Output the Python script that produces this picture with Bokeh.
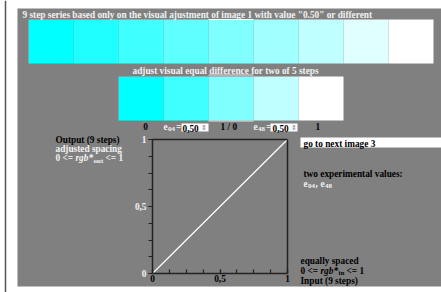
from bokeh.plotting import figure
from bokeh.models import Range1d, LinearAxis, FixedTicker, Label, ColumnDataSource
from bokeh.embed import file_html
from bokeh.resources import INLINE

# ---------------- data ----------------
steps9 = [0, 1, 2, 3, 4, 5, 6, 7, 8]
colors9 = ["#00ffff", "#20ffff", "#40ffff", "#60ffff", "#80ffff",
           "#a0ffff", "#c0ffff", "#e0ffff", "#ffffff"]
steps5 = [0, 1, 2, 3, 4]
colors5 = ["#00ffff", "#40ffff", "#80ffff", "#c0ffff", "#ffffff"]
mid9 = [4]
mid5 = [2]
input_vals = [0, 0.125, 0.25, 0.375, 0.5, 0.625, 0.75, 0.875, 1]
output_vals = [0, 0.125, 0.25, 0.375, 0.5, 0.625, 0.75, 0.875, 1]
x_major_ticks = [0, 0.5, 1]
y_major_ticks = [0, 0.5, 1]
tick_label_overrides = {0.5: "0,5"}
e04_value = "0,50"
e48_value = "0,50"

# ---------------- figure ----------------
FONT = "Liberation Serif"
FS = "9.3px"
SUB = "7px"
GRAY = "#808080"
LIGHT = "#f2f2f2"
DY = -2.0

W, H = 441, 292
p = figure(width=W, height=H, x_range=Range1d(0, W), y_range=Range1d(H, 0),
           x_axis_type=None, y_axis_type=None, min_border=0,
           toolbar_location=None, output_backend="svg",
           background_fill_color="white", border_fill_color="white",
           outline_line_color=None)
p.grid.visible = False

# ranges for strips (45 px per step) and for inner plot
p.extra_x_ranges = {
    "s9": Range1d(-28 / 45, 9 + 8 / 45),
    "s5": Range1d(-118 / 45, 5 + 98 / 45),
    "in": Range1d(-152 / 135, 1 + 154 / 135),
}
p.extra_y_ranges = {"in": Range1d(-19 / 134, 1 + 139 / 134)}

# left frame line and gray panel
p.segment(x0=5, x1=5, y0=0, y1=H, line_color="#555555", line_width=1.5)
p.quad(left=17, right=W, top=8, bottom=286, fill_color=GRAY, line_color=None)

# 9-step strip
src9 = ColumnDataSource(dict(l=steps9, r=[s + 1 for s in steps9], c=colors9))
p.quad(left="l", right="r", top=19, bottom=63, fill_color="c", line_color=None,
       source=src9, x_range_name="s9")
p.segment(x0=mid9, x1=[m + 1 for m in mid9], y0=19, y1=19, line_color="white",
          line_width=1, x_range_name="s9")

# 5-step strip
src5 = ColumnDataSource(dict(l=steps5, r=[s + 1 for s in steps5], c=colors5))
p.quad(left="l", right="r", top=76, bottom=120, fill_color="c", line_color=None,
       source=src5, x_range_name="s5")
p.segment(x0=mid5 * 2, x1=[m + 1 for m in mid5] * 2, y0=[74.5, 120.5], y1=[74.5, 120.5],
          line_color="#e8e8e8", line_width=1, x_range_name="s5")

# input boxes
p.quad(left=[181, 270], right=[208, 297], top=123, bottom=131,
       fill_color="white", line_color=None)
p.quad(left=300, right=W, top=137, bottom=147, fill_color="white", line_color=None)


def txt(x, y, t, color="black", size=FS, style="bold", align="left"):
    p.add_layout(Label(x=x, y=y + DY, text=t, text_font=FONT, text_font_size=size,
                       text_font_style=style, text_color=color, text_align=align,
                       text_baseline="alphabetic"))


# titles
txt(22, 16.5, '9 step series based only on the visual ajustment of image 1 with value "0.50" or different', LIGHT)
txt(132, 72, "adjust visual equal difference for two of 5 steps", LIGHT)

# row of controls
txt(145, 128, "0", align="center")
txt(163, 128, "e", LIGHT)
txt(167.5, 130, "04", LIGHT, size=SUB)
txt(175.5, 128, "=", LIGHT)
txt(182, 129.5, e04_value)
txt(200.5, 129.5, "\u21d5", "#777777", size="7px", style="normal")
txt(220, 128, "1 / 0")
txt(253, 128, "e", LIGHT)
txt(257.5, 130, "48", LIGHT, size=SUB)
txt(265.5, 128, "=", LIGHT)
txt(272, 129.5, e48_value)
txt(290.5, 129.5, "\u21d5", "#777777", size="7px", style="normal")
txt(315, 128, "1")

# left texts
txt(55, 141.5, "Output (9 steps)")
txt(55, 150.5, "adjusted spacing", LIGHT)
txt(55, 159.5, "0 <=", LIGHT)
txt(75, 159.5, "rgb*", LIGHT, style="bold italic")
txt(93, 162, "out", LIGHT, size=SUB)
txt(105, 159.5, "<= 1", LIGHT)

# right texts
txt(303, 145, "go to next image 3")
txt(303, 175, "two experimental values:")
txt(303, 185, "e", LIGHT)
txt(307.5, 187, "04", LIGHT, size=SUB)
txt(315, 185, ",", LIGHT)
txt(320, 185, "e", LIGHT)
txt(324.5, 187, "48", LIGHT, size=SUB)

# bottom right texts
txt(300, 262, "equally spaced")
txt(300, 272, "0 <=")
txt(320, 272, "rgb*", style="bold italic")
txt(338, 274, "in", size=SUB)
txt(346, 272, "<= 1")
txt(300, 282, "Input (9 steps)")

# inner plot: diagonal
p.line(x=input_vals, y=output_vals, line_color="white", line_width=1.2,
       x_range_name="in", y_range_name="in")

# axes
common = dict(x_range_name="in", y_range_name="in", bounds=(0, 1),
              axis_line_color="#222222", axis_line_width=1.5,
              major_label_text_font=FONT, major_label_text_font_style="bold",
              major_tick_line_color="#222222", minor_tick_line_color="#222222",
              major_tick_line_width=1.2, minor_tick_line_width=1.2)

xb = LinearAxis(fixed_location=0,
                ticker=FixedTicker(ticks=x_major_ticks, minor_ticks=input_vals),
                major_label_overrides=tick_label_overrides,
                major_label_text_font_size=FS, major_label_text_color="black",
                major_tick_in=4, major_tick_out=0, minor_tick_in=4, minor_tick_out=0,
                major_label_standoff=1, **common)
p.add_layout(xb, "below")

yl = LinearAxis(fixed_location=0,
                ticker=FixedTicker(ticks=y_major_ticks, minor_ticks=output_vals),
                major_label_overrides=tick_label_overrides,
                major_label_text_font_size=FS, major_label_text_color=LIGHT,
                major_tick_in=0, major_tick_out=4, minor_tick_in=0, minor_tick_out=4,
                major_label_standoff=2, **common)
p.add_layout(yl, "left")

for side in ("above", "right"):
    ax = LinearAxis(fixed_location=1, ticker=FixedTicker(ticks=[]),
                    major_tick_in=0, major_tick_out=0, minor_tick_in=0, minor_tick_out=0,
                    major_label_text_font_size="0px", **common)
    p.add_layout(ax, side)

open("out.html", "w").write(file_html(p, INLINE))
